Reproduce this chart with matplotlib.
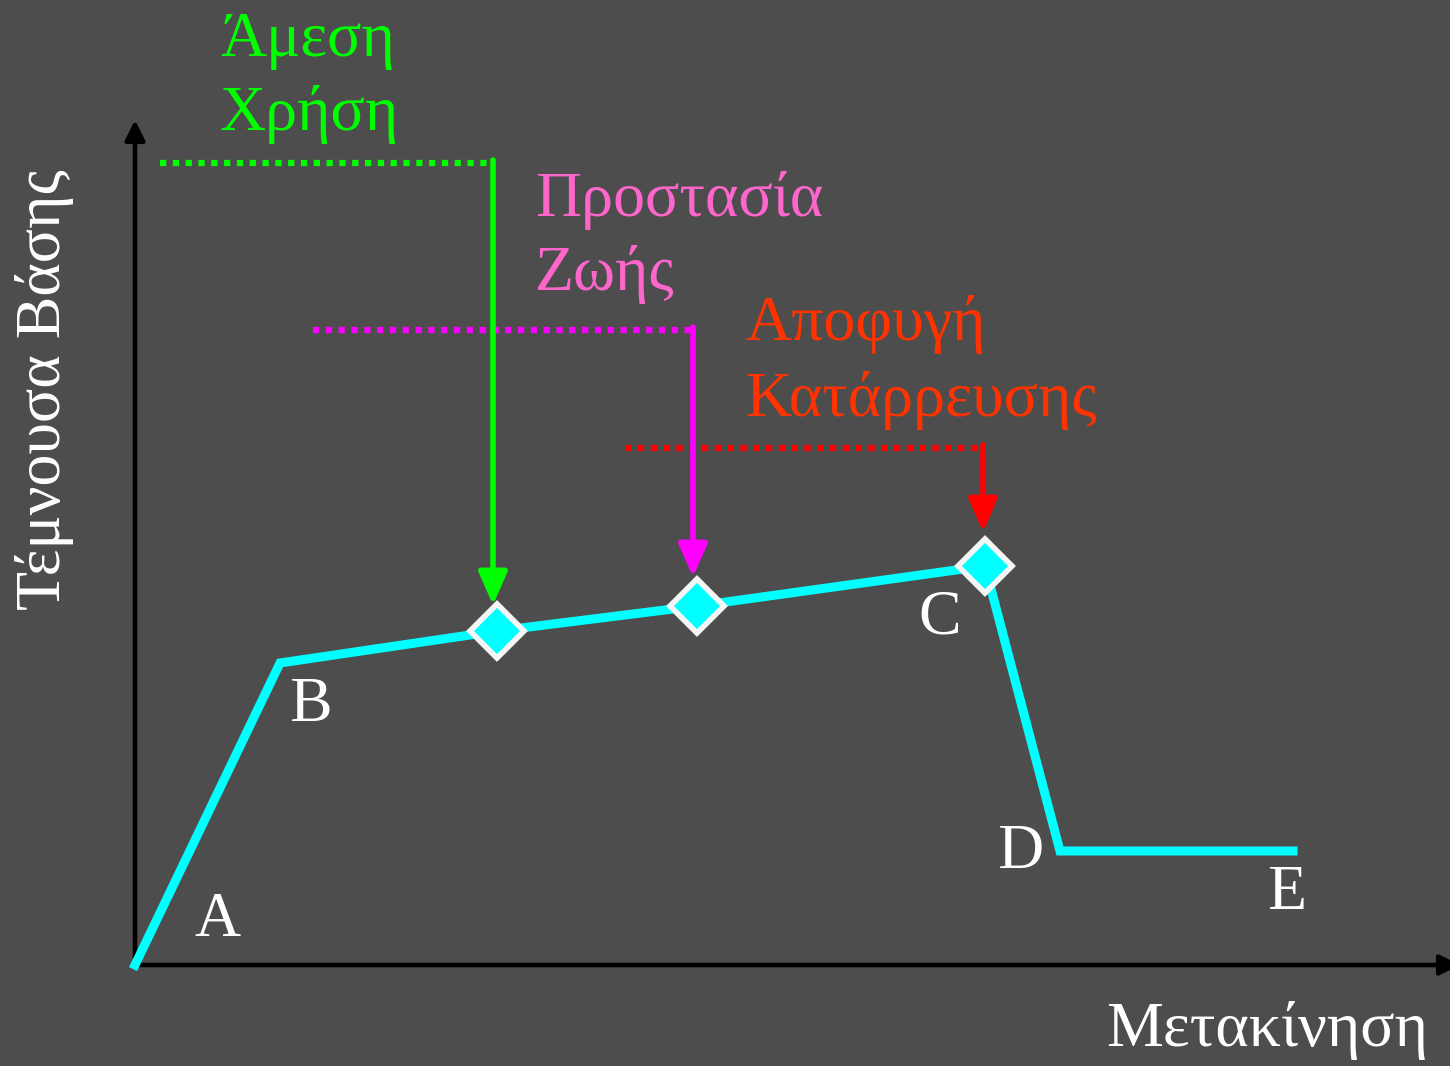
import matplotlib
matplotlib.use("Agg")
import matplotlib.pyplot as plt

plt.rcParams['font.family'] = ['Liberation Serif', 'DejaVu Serif']

# pushover curve (schematic units)
curve_x = [0.0, 14.5, 36.2, 56.2, 85.0, 92.5, 115.8]
curve_y = [0.0, 30.2, 33.4, 35.9, 39.9, 11.4, 11.4]
point_labels = ['A', 'B', 'C', 'D', 'E']
label_x = [8.2, 17.5, 80.5, 88.5, 115.2]
label_y = [4.4, 25.9, 34.6, 11.2, 7.1]

# performance levels: marker on curve, dotted level line, text
perf_x = [36.2, 56.2, 85.0]
perf_y = [33.4, 35.9, 39.9]
level_y = [80.2, 63.5, 51.7]
level_start = [2.5, 17.8, 49.0]
arrow_x = [35.8, 55.8, 84.8]
arrow_tip = [36.0, 38.8, 43.3]
level_text = [['Άμεση', 'Χρήση'], ['Προστασία', 'Ζωής'], ['Αποφυγή', 'Κατάρρευσης']]
text_x = [8.5, 40.0, 61.0]
text_y = [[92.4, 85.0], [76.4, 69.1], [64.1, 56.4]]
line_colors = ['#00ff00', '#ff00ff', '#ff0000']
text_colors = ['#00ff00', '#ff66cc', '#ff3300']

bg = '#4d4d4d'
fig = plt.figure(figsize=(14.5, 10.66), dpi=100, facecolor=bg)
ax = fig.add_axes([135 / 1450, 101 / 1066, 1315 / 1450, 845 / 1066])
ax.set_facecolor(bg)
ax.set_xlim(0, 131.5)
ax.set_ylim(0, 84.5)
ax.axis('off')

# axes with arrows
ax.annotate('', xy=(0, 84.5), xytext=(0, 0), annotation_clip=False,
            arrowprops=dict(arrowstyle='-|>', color='black', lw=3.3, mutation_scale=30,
                            shrinkA=0, shrinkB=0))
ax.annotate('', xy=(132.5, 0), xytext=(0, 0), annotation_clip=False,
            arrowprops=dict(arrowstyle='-|>', color='black', lw=3.3, mutation_scale=30,
                            shrinkA=0, shrinkB=0))

ax.plot(curve_x, curve_y, color='#00ffff', lw=6.5, solid_joinstyle='miter', zorder=3, clip_on=False)
ax.plot(perf_x, perf_y, 'D', ms=27, mfc='#00ffff', mec='#f5f5f5', mew=4, zorder=5, clip_on=False)

for i in range(3):
    ax.plot([level_start[i], arrow_x[i]], [level_y[i], level_y[i]], color=line_colors[i],
            lw=4.5, dashes=(1, 1.05), dash_capstyle='butt', clip_on=False, zorder=2)
    ax.annotate('', xy=(arrow_x[i], arrow_tip[i]), xytext=(arrow_x[i], level_y[i] + 0.3),
                annotation_clip=False,
                arrowprops=dict(arrowstyle='-|>,head_length=0.5,head_width=0.22',
                                color=line_colors[i], lw=4,
                                mutation_scale=40, shrinkA=0, shrinkB=0), zorder=4)
    for line, ty in zip(level_text[i], text_y[i]):
        ax.text(text_x[i], ty, line, color=text_colors[i], fontsize=46,
                ha='left', va='center', clip_on=False)

for lab, lx, ly in zip(point_labels, label_x, label_y):
    ax.text(lx, ly, lab, color='white', fontsize=46, ha='center', va='center')

fig.text(45 / 1450, 1 - 390 / 1066, 'Τέμνουσα Βάσης', color='white', fontsize=46,
         rotation=90, ha='center', va='center')
fig.text(1428 / 1450, 1 - 1030 / 1066, 'Μετακίνηση', color='white', fontsize=46,
         ha='right', va='center')

fig.savefig('out.png', dpi=100, facecolor=bg)
